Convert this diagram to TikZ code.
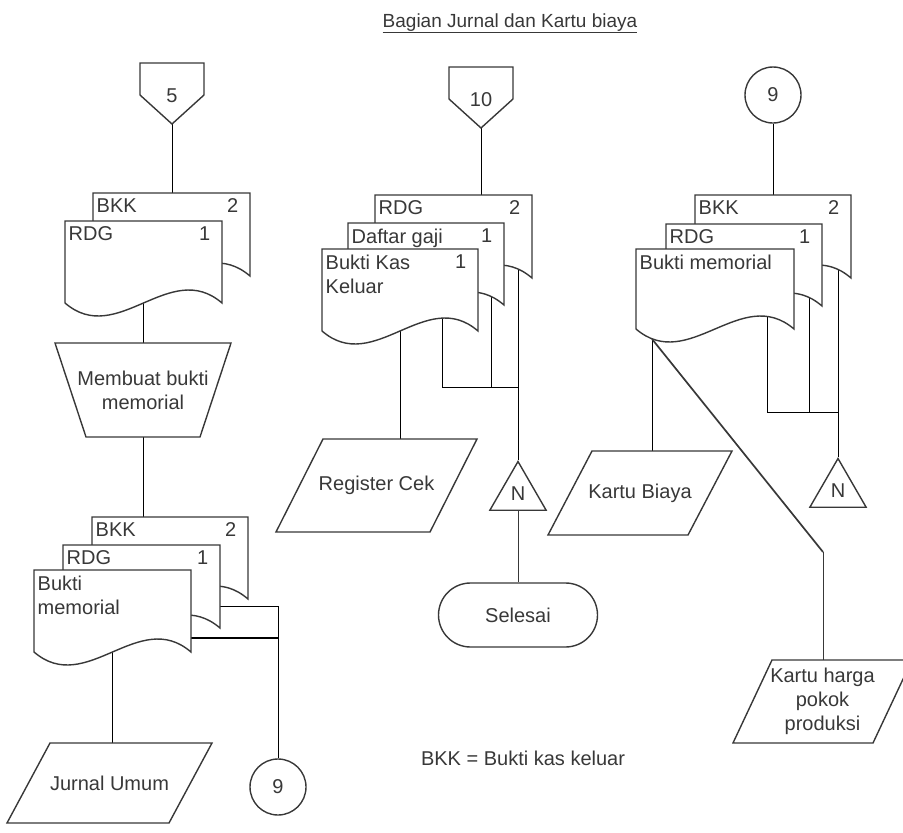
\documentclass[tikz,border=0pt]{standalone}
\usepackage{fontspec}
\setmainfont{Liberation Sans}
\usetikzlibrary{shapes.geometric,backgrounds}

% dokumen: nama, x kiri, y atas, lebar, tinggi, teks, nomor
\newcommand{\dokumen}[7]{%
  \filldraw[fill=white] (#2,#3) -- ++(#4,0) -- ++(0,#5)
    .. controls ({#2+2*#4/3},{#3+#5-45}) and ({#2+#4/3},{#3+#5+45}) .. (#2,{#3+#5}) -- cycle;
  \node[labeldok, anchor=north west] (#1) at (#2,#3) {#6};
  \node[nodok, anchor=north east] (#1-no) at ({#2+#4},#3) {#7};
  \coordinate (#1-atas) at ({#2+#4/2},#3);
  \coordinate (#1-bawah) at ({#2+#4/2},{#3+#5});
}

% off-page connector: nama, x tengah, y atas, teks
\newcommand{\offpage}[4]{%
  \draw ({#2-32},#3) -- ({#2+32},#3) -- ({#2+32},{#3+32}) -- (#2,{#3+61}) -- ({#2-32},{#3+32}) -- cycle;
  \node (#1) at (#2,{#3+33}) {#4};
  \coordinate (#1-ujung) at (#2,{#3+61});
}

% jajaran genjang: nama, x tengah, y tengah, lebar sisi, tinggi, miring, teks
\newcommand{\jajar}[7]{%
  \draw ({#2-#4/2+#6/2},{#3-#5/2}) -- ++(#4,0) -- ++(-#6,#5) -- ++(-#4,0) -- cycle;
  \node[align=center] (#1) at (#2,#3) {#7};
  \coordinate (#1-atas) at (#2,{#3-#5/2});
}

\begin{document}
\begin{tikzpicture}[x=1pt, y=-1pt, line width=1.4pt, color=black!78,
    font=\fontsize{20}{24}\selectfont,
    labeldok/.style={inner xsep=3pt, inner ysep=5pt, align=left},
    nodok/.style={inner xsep=11pt, inner ysep=5pt},
    lingkaran/.style={draw, circle, minimum size=56pt, inner sep=0pt},
    segitiga/.style={draw, regular polygon, regular polygon sides=3, minimum size=65pt, inner sep=0pt},
    terminal/.style={draw, rounded corners=32pt, minimum width=159pt, minimum height=64pt}]

\useasboundingbox (0,0) rectangle (903,833);

% ===== Judul =====
\node[anchor=base, font=\fontsize{19}{23}\selectfont] (judul) at (510,27) {\underline{Bagian Jurnal dan Kartu biaya}};

% ===== Kolom kiri =====
\offpage{off5}{172}{63}{5}

\dokumen{d1a}{93}{193}{157}{83}{BKK}{2}
\dokumen{d1b}{65}{221}{157}{82}{RDG}{1}

\draw (55,343) -- (231,343) -- (200,437) -- (86,437) -- cycle;
\node[align=center] (proses) at (143,390) {Membuat bukti\\memorial};
\coordinate (proses-atas) at (143,343);
\coordinate (proses-bawah) at (143,437);

\dokumen{d2a}{92}{517}{156}{82}{BKK}{2}
\dokumen{d2b}{63}{545}{157}{83}{RDG}{1}
\dokumen{d2c}{34}{570}{157}{82}{Bukti\\memorial}{}

\jajar{jurnal}{109.5}{783}{162}{80}{43}{Jurnal Umum}
\node[lingkaran] (sambung9a) at (278,787) {9};

% ===== Kolom tengah =====
\offpage{off10}{481}{67}{10}

\dokumen{d3a}{375}{195}{157}{83}{RDG}{2}
\dokumen{d3b}{348}{223}{156}{82}{Daftar gaji}{1}
\dokumen{d3c}{322}{249}{156}{82}{Bukti Kas\\Keluar}{1}

\jajar{regcek}{376.5}{485.5}{154}{93}{47}{Register Cek}
\node[segitiga] (arsip1) at (518,494) {N};
\node[terminal] (selesai) at (518,615) {Selesai};

% ===== Kolom kanan =====
\node[lingkaran] (sambung9b) at (773,95) {9};

\dokumen{d4a}{695}{195}{156}{83}{BKK}{2}
\dokumen{d4b}{666}{224}{156}{82}{RDG}{1}
\dokumen{d4c}{636}{249}{158}{80}{Bukti memorial}{}

\jajar{kbiaya}{640}{493}{140}{84}{44}{Kartu Biaya}
\jajar{khpp}{822.5}{701.5}{140}{83}{39}{Kartu harga\\pokok\\produksi}
\node[segitiga] (arsip2) at (838,491) {N};

\node (keterangan) at (523,758) {BKK = Bukti kas keluar};

% ===== Garis penghubung =====
\coordinate (k2a) at (215,606);
\coordinate (k2b) at (185,638);
\coordinate (k3a) at (518,262);
\coordinate (k3b) at (491,290);
\coordinate (k3c) at (442,305);
\coordinate (simpul3) at (518,387);
\coordinate (k4a) at (838,262);
\coordinate (k4b) at (809,290);
\coordinate (k4c) at (767,305);
\coordinate (k4d) at (652,339);
\coordinate (simpul4) at (838,412);
\coordinate (belok) at (823,552);

\begin{pgfonlayer}{background}
\draw (off5-ujung) -- (off5-ujung |- d1a-atas);
\draw (d1b-bawah) -- (d1b-bawah |- proses-atas);
\draw (proses-bawah) -- (proses-bawah |- d2a-atas);
\draw (d2c-bawah) -- (d2c-bawah |- jurnal-atas);
\draw (k2a) -| (sambung9a.north);
\draw[line width=2.2pt] (k2b) -- (k2b -| sambung9a.north);

\draw (off10-ujung) -- (off10-ujung |- d3a-atas);
\draw (d3c-bawah) -- (d3c-bawah |- regcek-atas);
\draw (k3c) |- (simpul3);
\draw (k3b) -- (k3b |- simpul3);
\draw (k3a) -- (k3a |- arsip1.north);

\draw (sambung9b.south) -- (sambung9b.south |- d4a-atas);
\draw (k4c) |- (simpul4);
\draw (k4b) -- (k4b |- simpul4);
\draw (k4a) -- (k4a |- arsip2.north);
\draw (k4d) -- (k4d |- kbiaya-atas);
\end{pgfonlayer}

\draw (arsip1.south -| selesai.north) -- (selesai.north);
\draw[line width=1.7pt] (k4d) -- (belok);
\draw (belok) -- (belok |- khpp-atas);

\end{tikzpicture}
\end{document}
